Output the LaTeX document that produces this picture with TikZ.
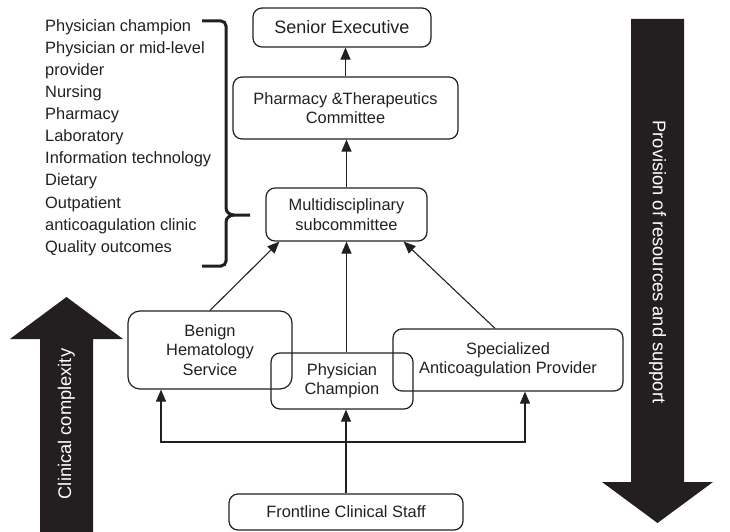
\documentclass[tikz,border=0pt]{standalone}
\usepackage{fontspec}
\setmainfont{Liberation Sans}
\usetikzlibrary{arrows.meta}
\definecolor{ink}{HTML}{231F20}
\begin{document}
\begin{tikzpicture}[x=1pt,y=-1pt,
  box/.style={draw=ink,line width=1.2pt,rounded corners=9pt,align=center,text=ink,inner sep=0pt,font=\fontsize{16.4}{19.5}\selectfont},
  link/.style={draw=ink,line width=1.1pt,-{Triangle[length=12pt,width=10pt]}},
  bigtext/.style={text=white,font=\fontsize{18.3}{21}\selectfont}]
\useasboundingbox (0,0) rectangle (730,532);
\node[box,minimum width=178,minimum height=39,font=\fontsize{18}{21}\selectfont] (senior) at (342,27.5) {Senior Executive};
\node[box,minimum width=225,minimum height=62] (pt) at (345.5,108) {Pharmacy \&Therapeutics\\Committee};
\node[box,minimum width=161,minimum height=53] (multi) at (346.5,214.5) {Multidisciplinary\\subcommittee};
\node[box,minimum width=164,minimum height=78,rounded corners=12pt] (benign) at (210,350) {Benign\\Hematology\\Service};
\node[box,minimum width=142,minimum height=56] (phys) at (342,381) {Physician\\Champion};
\node[box,minimum width=230,minimum height=62] (spec) at (508,360) {Specialized\\Anticoagulation Provider};
\node[box,minimum width=234,minimum height=36] (front) at (346,512) {Frontline Clinical Staff};
\node[anchor=west,align=left,inner sep=0pt,text=ink,font=\fontsize{16.4}{22.1}\selectfont] (members) at (45,137.5) {Physician champion\\Physician or mid-level\\provider\\Nursing\\Pharmacy\\Laboratory\\Information technology\\Dietary\\Outpatient\\anticoagulation clinic\\Quality outcomes};
\draw[ink,line width=3pt] (202,21) -- (221,21) to[out=0,in=90] (226,26) -- (226,208) to[out=-90,in=180] (234,215) -- (250,215);
\draw[ink,line width=3pt] (234,215) to[out=180,in=90] (226,222) -- (226,261) to[out=-90,in=0] (221,266) -- (202,266);
\draw[link] (pt.north) -- (pt.north |- senior.south);
\draw[link] (multi.north) -- (multi.north |- pt.south);
\draw[link] (benign.north) -- ([xshift=14]multi.south west);
\draw[link] (phys.north -| multi.south) -- (multi.south);
\draw[link] ([xshift=-13]spec.north) -- ([xshift=-24]multi.south east);
\coordinate (split) at (346,442);
\draw[link] (front.north) -- (phys.south -| front.north);
\draw[link] (split) -| ([xshift=-49]benign.south);
\draw[link] (split) -| ([xshift=17]spec.south);
\fill[ink] (40,532) -- (40,339) -- (10,339) -- (66.5,297) -- (123,339) -- (93,339) -- (93,532) -- cycle;
\node[bigtext,rotate=90] (complexity) at (66.5,424) {Clinical complexity};
\fill[ink] (631,19) -- (684,19) -- (684,482) -- (713,482) -- (657.5,523) -- (602,482) -- (631,482) -- cycle;
\node[bigtext,rotate=-90] (provision) at (657.5,262) {Provision of resources and support};
\end{tikzpicture}
\end{document}
